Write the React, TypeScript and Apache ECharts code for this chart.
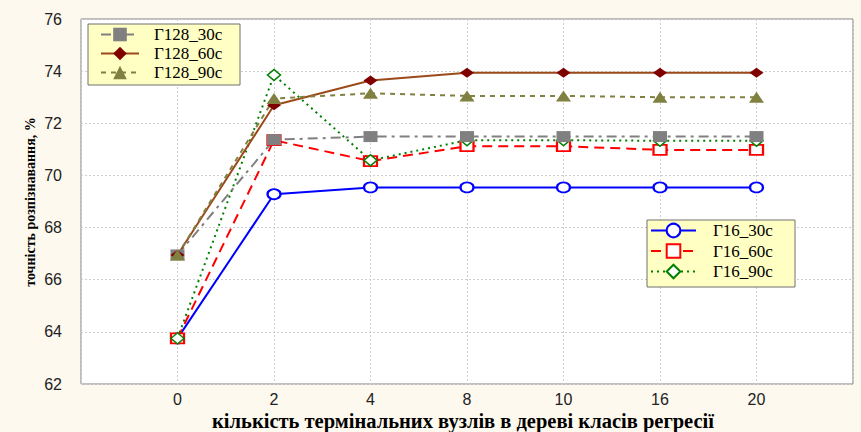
import React, { useEffect, useRef } from "react";
import * as echarts from "echarts";

const categories = ["0", "2", "4", "8", "10", "16", "20"];
const seriesNames = ["Г16_30с", "Г16_60с", "Г16_90с", "Г128_30с", "Г128_60с", "Г128_90с"];
const g16_30 = [63.75, 69.28, 69.54, 69.54, 69.54, 69.54, 69.54];
const g16_60 = [63.75, 71.35, 70.55, 71.12, 71.12, 70.98, 70.98];
const g16_90 = [63.75, 73.85, 70.58, 71.35, 71.35, 71.33, 71.33];
const g128_30 = [66.95, 71.37, 71.49, 71.49, 71.49, 71.49, 71.49];
const g128_60 = [66.95, 72.69, 73.64, 73.94, 73.94, 73.94, 73.94];
const g128_90 = [66.95, 72.95, 73.15, 73.05, 73.05, 73.0, 73.0];
const yTicks = { min: 62, max: 76, step: 2 };
const yName = "точність розпізнавання, %";
const xName = "кількість термінальних вузлів в дереві класів регресії";

const toXY = (arr: number[]) => arr.map((v, i) => [i, v]);

export default function App() {
  const ref = useRef<HTMLDivElement>(null);
  useEffect(() => {
    if (!ref.current) return;
    const chart = echarts.init(ref.current, null, { renderer: "svg" });
    const serif = "Liberation Serif, Times New Roman, serif";
    const sans = "Liberation Sans, Arial, sans-serif";
    const mk = (
      name: string,
      data: number[],
      symbol: string,
      size: number[],
      fill: string,
      border: string,
      bw: number,
      lineColor: string,
      dash: any
    ) => ({
      name,
      type: "line",
      data: toXY(data),
      symbol,
      symbolSize: size,
      showAllSymbol: true,
      itemStyle: { color: fill, borderColor: border, borderWidth: bw, opacity: 1 },
      lineStyle: { color: lineColor, width: 2, type: dash },
      emphasis: { disabled: true },
    });
    const legendText = {
      fontFamily: serif,
      fontSize: 17,
      fontWeight: "normal",
      color: "#000",
    };
    chart.setOption({
      animation: false,
      backgroundColor: "#FEF9EE",
      grid: {
        left: 81,
        right: 8,
        top: 19,
        bottom: 48,
        show: true,
        backgroundColor: "#ffffff",
        borderColor: "#808080",
        borderWidth: 1,
      },
      xAxis: {
        type: "value",
        min: -1,
        max: categories.length,
        interval: 1,
        axisLine: { show: false },
        axisTick: { show: false },
        splitLine: { show: true, lineStyle: { color: "#cfcfcf", type: [2, 2], width: 1 } },
        axisLabel: {
          margin: 7,
          fontFamily: sans,
          fontSize: 16,
          color: "#222",
          formatter: (v: number) => (v >= 0 && v < categories.length ? categories[v] : ""),
        },
      },
      yAxis: {
        type: "value",
        min: yTicks.min,
        max: yTicks.max,
        interval: yTicks.step,
        axisLine: { show: false },
        axisTick: { show: false },
        splitLine: { show: true, lineStyle: { color: "#cfcfcf", type: [2, 2], width: 1 } },
        axisLabel: { margin: 19, fontFamily: sans, fontSize: 16, color: "#222" },
      },
      legend: [
        {
          data: seriesNames.slice(3),
          orient: "vertical",
          left: 100,
          top: 26,
          padding: 0,
          itemWidth: 38,
          itemHeight: 17,
          itemGap: 2,
          textStyle: { ...legendText, padding: [0, 0, 0, 10] },
          selectedMode: false,
        },
        {
          data: seriesNames.slice(0, 3),
          orient: "vertical",
          left: 650,
          top: 222,
          padding: 0,
          itemWidth: 45,
          itemHeight: 17,
          itemGap: 3.5,
          textStyle: { ...legendText, padding: [0, 0, 0, 12] },
          selectedMode: false,
        },
      ],
      graphic: [
        {
          type: "rect",
          z: 3,
          shape: { x: 88, y: 24, width: 152, height: 61 },
          style: { fill: "#FFFFC4", stroke: "#707070", lineWidth: 1 },
        },
        {
          type: "rect",
          z: 3,
          shape: { x: 647, y: 220, width: 148, height: 67 },
          style: { fill: "#FFFFC4", stroke: "#707070", lineWidth: 1 },
        },
        {
          type: "text",
          x: 30,
          y: 202,
          rotation: Math.PI / 2,
          style: {
            text: yName,
            fill: "#000",
            font: `bold 14px ${serif}`,
            align: "center",
            verticalAlign: "middle",
          },
        },
        {
          type: "text",
          x: 463,
          y: 421,
          style: {
            text: xName,
            fill: "#000",
            font: `bold 20.5px ${serif}`,
            align: "center",
            verticalAlign: "middle",
          },
        },
      ],
      series: [
        mk(seriesNames[0], g16_30, "circle", [13, 10], "#ffffff", "#0000ff", 2, "#0000ff", "solid"),
        mk(seriesNames[1], g16_60, "rect", [13, 10], "#ffffff", "#ff0000", 2, "#ff0000", [10, 6]),
        mk(seriesNames[2], g16_90, "diamond", [13, 11], "#ffffff", "#008000", 1.5, "#008000", [2, 4]),
        mk(seriesNames[3], g128_30, "rect", [14, 11], "#808080", "#808080", 0, "#808080", [10, 5, 3, 5]),
        mk(seriesNames[4], g128_60, "diamond", [14, 10], "#800000", "#800000", 0, "#9C4A1A", "solid"),
        mk(seriesNames[5], g128_90, "triangle", [15, 11], "#808040", "#808040", 0, "#808040", [5, 5]),
      ],
    });
    return () => chart.dispose();
  }, []);
  return (
    <div
      ref={ref}
      style={{ position: "fixed", left: 0, top: 0, width: 861, height: 432 }}
    />
  );
}
